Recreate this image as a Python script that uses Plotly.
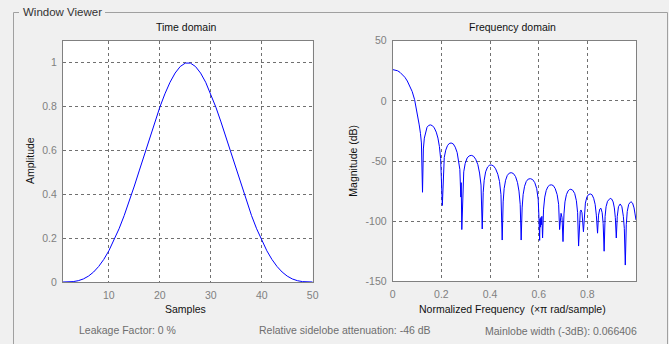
import plotly.graph_objects as go

# ---------------- data ----------------
samples = list(range(1, 51))
amplitude = [0, 0.0002, 0.0018, 0.0060, 0.0139, 0.0268, 0.0455, 0.0707, 0.1029, 0.1424,
             0.1890, 0.2426, 0.3024, 0.3678, 0.4375, 0.5102, 0.5843, 0.6576, 0.7296, 0.7968,
             0.8578, 0.9104, 0.9525, 0.9823, 0.9980, 0.9980, 0.9823, 0.9525, 0.9104, 0.8578,
             0.7968, 0.7296, 0.6576, 0.5843, 0.5102, 0.4375, 0.3678, 0.3024, 0.2426, 0.1890,
             0.1424, 0.1029, 0.0707, 0.0455, 0.0268, 0.0139, 0.0060, 0.0018, 0.0002, 0]

freq = [0.000, 0.010, 0.020, 0.030, 0.040, 0.050, 0.060, 0.070, 0.080, 0.090, 0.098, 0.104, 0.109, 0.114, 0.118, 0.1225,
        0.126, 0.130, 0.135, 0.141, 0.148, 0.155, 0.163, 0.171, 0.179, 0.186, 0.192, 0.197, 0.204,
        0.208, 0.212, 0.218, 0.225, 0.232, 0.240, 0.249, 0.257, 0.265, 0.271, 0.276, 0.280, 0.2815, 0.284,
        0.288, 0.292, 0.298, 0.306, 0.314, 0.323, 0.332, 0.341, 0.350, 0.357, 0.363, 0.368,
        0.372, 0.376, 0.382, 0.390, 0.397, 0.405, 0.414, 0.423, 0.432, 0.439, 0.445, 0.450,
        0.454, 0.458, 0.464, 0.471, 0.479, 0.487, 0.496, 0.505, 0.513, 0.519, 0.524, 0.528,
        0.532, 0.536, 0.542, 0.549, 0.557, 0.566, 0.575, 0.584, 0.592, 0.598, 0.601, 0.603, 0.604, 0.6055, 0.607, 0.609, 0.611, 0.613, 0.616,
        0.620, 0.625, 0.631, 0.638, 0.645, 0.652, 0.660, 0.668, 0.676, 0.682, 0.686, 0.689, 0.692, 0.696, 0.700,
        0.704, 0.708, 0.714, 0.721, 0.727, 0.732, 0.740, 0.748, 0.755, 0.760, 0.764, 0.768, 0.771, 0.774, 0.778, 0.784,
        0.788, 0.792, 0.798, 0.805, 0.812, 0.819, 0.826, 0.832, 0.837, 0.842, 0.846, 0.851, 0.856, 0.861, 0.865, 0.869,
        0.873, 0.877, 0.883, 0.889, 0.894, 0.900, 0.906, 0.911, 0.915, 0.919, 0.923, 0.928, 0.935, 0.942, 0.948, 0.952,
        0.956, 0.960, 0.964, 0.970, 0.979, 0.986, 0.992, 0.996, 1.000]

magnitude_db = [26.0, 25.7, 25.0, 23.7, 21.9, 19.6, 16.5, 12.6, 7.8, 1.0, -7, -14, -20, -27, -35, -76,
                -40, -31, -25.5, -22, -20.4, -20, -20.6, -22.5, -26, -31, -38, -48, -87,
                -55, -47, -41, -37.3, -35.5, -35, -35.8, -38.5, -43, -49, -57, -80, -68, -107,
                -68, -59, -52, -47.5, -45.8, -45.3, -46, -48.5, -53, -60, -70, -106.5,
                -76, -66, -59, -55, -53.6, -53.3, -54, -56.5, -61, -67, -78, -115.7,
                -84, -73, -66, -62, -60.1, -59.7, -60.4, -63, -68, -75, -86, -115.7,
                -89, -78, -71, -67, -65, -64.7, -65.4, -68, -73, -82, -96, -104, -116, -98, -105, -97, -103, -96, -114,
                -90, -80, -74.5, -71.3, -70.1, -69.8, -70.4, -73, -78, -86, -107, -96, -93.5, -97, -117,
                -94, -84, -78, -74.8, -73.7, -73.5, -74.3, -77, -83, -93, -120.7, -99, -92, -90.7, -93, -108.8,
                -92, -85, -80, -77.9, -77.4, -78, -81, -86, -95, -110, -95, -90, -89.3, -93, -102, -125,
                -96, -88, -83.5, -81.5, -81, -81.6, -84, -89, -97, -114, -96, -88, -85.7, -88, -96, -106,
                -136.5, -103, -92, -86, -83.8, -85, -89, -94, -99]

amp_ticks = [0, 0.2, 0.4, 0.6, 0.8, 1]
amp_ticktext = ["0", "0.2", "0.4", "0.6", "0.8", "1"]
sample_ticks = [10, 20, 30, 40, 50]
freq_ticks = [0, 0.2, 0.4, 0.6, 0.8]
freq_ticktext = ["0", "0.2", "0.4", "0.6", "0.8"]
db_ticks = [-150, -100, -50, 0, 50]
db_ticktext = ["-150", "-100", "-50", "0", "50"]

assert len(freq) == len(magnitude_db)

# ---------------- figure ----------------
W, H = 669, 344
FONT = "Liberation Sans, Arial, sans-serif"


def px(x):
    return x / W


def py(y):
    return 1 - y / H


fig = go.Figure()
fig.add_trace(go.Scatter(x=samples, y=amplitude, mode="lines",
                         line=dict(color="#0000ff", width=1),
                         xaxis="x", yaxis="y", showlegend=False, hoverinfo="skip"))
fig.add_trace(go.Scatter(x=freq, y=magnitude_db, mode="lines",
                         line=dict(color="#0000ff", width=1),
                         xaxis="x2", yaxis="y2", showlegend=False, hoverinfo="skip"))

axis_common = dict(showline=True, mirror=True, linecolor="#808080", linewidth=1,
                   showgrid=True, gridcolor="#707070", gridwidth=1, griddash="3px,3px",
                   zeroline=False, ticks="", automargin=False,
                   tickfont=dict(family=FONT, size=10.5, color="#808080"),
                   ticklabelstandoff=3)

fig.update_layout(
    width=W, height=H,
    margin=dict(l=0, r=0, t=0, b=0),
    paper_bgcolor="#f0f0f0",
    plot_bgcolor="#ffffff",
    xaxis=dict(domain=[px(63), px(312.7)], range=[1, 50], tickvals=sample_ticks,
               anchor="y", **axis_common),
    yaxis=dict(domain=[py(282), py(40.7)], range=[0, 1.1], tickvals=amp_ticks,
               ticktext=amp_ticktext, anchor="x", **axis_common),
    xaxis2=dict(domain=[px(392.7), px(636)], range=[0, 1.0], tickvals=freq_ticks,
                ticktext=freq_ticktext, anchor="y2", **axis_common),
    yaxis2=dict(domain=[py(281.3), py(40.7)], range=[-150, 50], tickvals=db_ticks,
                ticktext=db_ticktext, anchor="x2", **axis_common),
)

box_line = dict(color="#a0a0a0", width=1)
shapes = [
    dict(type="line", xref="paper", yref="paper", x0=px(13.5), y0=py(12.5), x1=px(19), y1=py(12.5), line=box_line),
    dict(type="line", xref="paper", yref="paper", x0=px(105), y0=py(12.5), x1=px(667.5), y1=py(12.5), line=box_line),
    dict(type="line", xref="paper", yref="paper", x0=px(13.5), y0=py(12.5), x1=px(13.5), y1=py(344), line=box_line),
    dict(type="line", xref="paper", yref="paper", x0=px(667.5), y0=py(12.5), x1=px(667.5), y1=py(344), line=box_line),
]
fig.update_layout(shapes=shapes)


def ann(text, x, y, size=10, color="#000000", xanchor="center", angle=0):
    fig.add_annotation(text=text, x=px(x), y=py(y), xref="paper", yref="paper",
                       xanchor=xanchor, yanchor="middle", showarrow=False, textangle=angle,
                       font=dict(family=FONT, size=size, color=color))


ann("Window Viewer", 20.5, 12, size=11.5, color="#333333", xanchor="left")
ann("Time domain", 186, 26.7, size=10.5, color="#111111")
ann("Frequency domain", 512.3, 26.7, size=10.5, color="#111111")
ann("Samples", 185.3, 308.7, size=10.5, color="#111111")
ann("Normalized Frequency \u00a0(\u00d7\u03c0 rad/sample)", 512.7, 308.7, size=10.5, color="#111111")
ann("Amplitude", 30, 161, size=10.5, color="#111111", angle=-90)
ann("Magnitude (dB)", 352.7, 161, size=10.5, color="#111111", angle=-90)
ann("Leakage Factor: 0 %", 76.7, 330.3, size=10.5, color="#6e6e6e", xanchor="left")
ann("Relative sidelobe attenuation: -46 dB", 256.7, 330.3, size=10.5, color="#6e6e6e", xanchor="left")
ann("Mainlobe width (-3dB): 0.066406", 482.7, 330.8, size=10.5, color="#6e6e6e", xanchor="left")

fig.write_html("out.html")
